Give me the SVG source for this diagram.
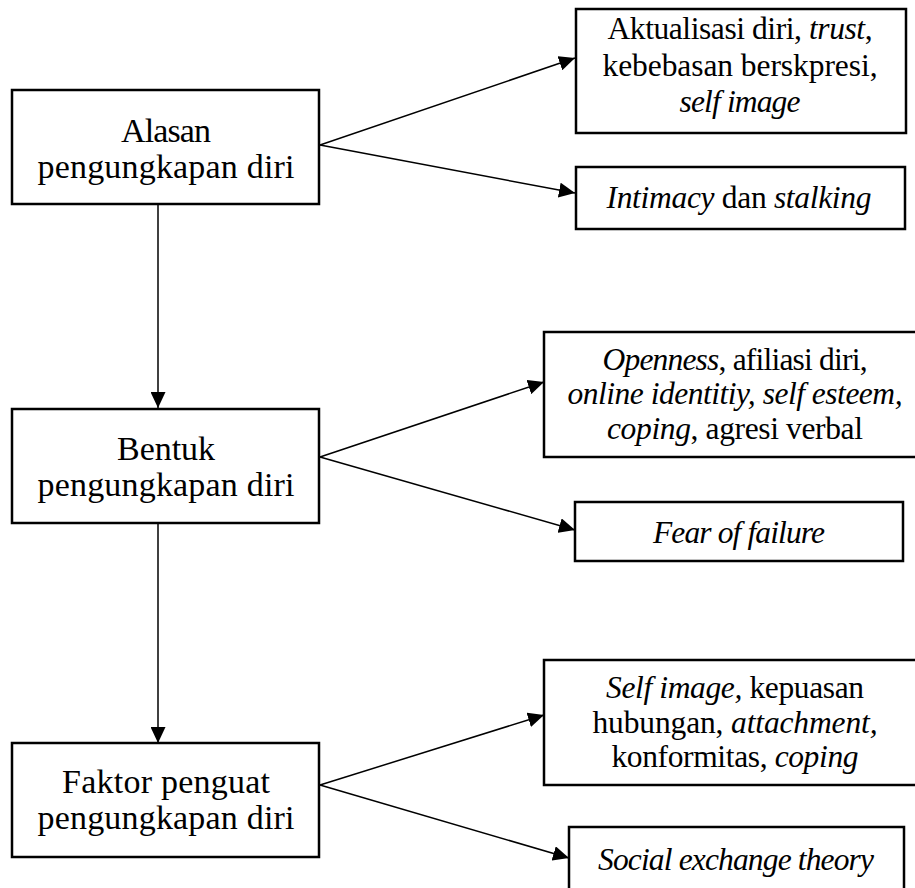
<svg xmlns="http://www.w3.org/2000/svg" width="915" height="888" viewBox="0 0 915 888">
<style>
.box{fill:#fff;stroke:#000;stroke-width:2.5}
.t{font-family:"Liberation Serif","Times New Roman",serif;font-size:31.5px;fill:#000;text-anchor:middle}
.l{font-size:34px}
.i{font-style:italic;font-size:31.5px}
.c{stroke:#000;stroke-width:1.5;fill:none;marker-end:url(#ah)}
</style>
<defs>
<marker id="ah" markerUnits="userSpaceOnUse" markerWidth="17" markerHeight="15" refX="16" refY="7.5" orient="auto">
<path d="M0,0 L16,7.5 L0,15 z" fill="#000"/>
</marker>
</defs>
<rect width="915" height="888" fill="#fff"/>
<g id="connectors">
<line class="c" x1="320" y1="145" x2="575" y2="58"/>
<line class="c" x1="320" y1="145" x2="575" y2="193"/>
<line class="c" x1="158" y1="204" x2="158" y2="408"/>
<line class="c" x1="320" y1="457" x2="544" y2="382"/>
<line class="c" x1="320" y1="457" x2="575" y2="530"/>
<line class="c" x1="158" y1="523" x2="158" y2="743"/>
<line class="c" x1="320" y1="785" x2="544" y2="715"/>
<line class="c" x1="320" y1="785" x2="569" y2="858"/>
</g>
<g id="alasan">
<rect class="box" x="12" y="90" width="307" height="114"/>
<text class="t l" x="166" y="142" textLength="90">Alasan</text>
<text class="t l" x="166" y="178" textLength="257">pengungkapan diri</text>
</g>
<g id="aktualisasi">
<rect class="box" x="576" y="9" width="330" height="124"/>
<text class="t" x="740" y="39" textLength="265">Aktualisasi diri, <tspan class="i">trust</tspan>,</text>
<text class="t" x="740" y="76" textLength="275">kebebasan berskpresi,</text>
<text class="t i" x="740" y="112" textLength="121">self image</text>
</g>
<g id="intimacy">
<rect class="box" x="576" y="167" width="329" height="62"/>
<text class="t" x="739" y="208" textLength="265"><tspan class="i">Intimacy</tspan> dan <tspan class="i">stalking</tspan></text>
</g>
<g id="bentuk">
<rect class="box" x="12" y="409" width="307" height="114"/>
<text class="t l" x="166" y="460" textLength="98">Bentuk</text>
<text class="t l" x="166" y="496" textLength="257">pengungkapan diri</text>
</g>
<g id="openness">
<rect class="box" x="544" y="332" width="384" height="125"/>
<text class="t" x="735" y="370" textLength="265"><tspan class="i">Openness</tspan>, afiliasi diri,</text>
<text class="t i" x="735" y="404" textLength="335">online identitiy, self esteem,</text>
<text class="t" x="735" y="439" textLength="256"><tspan class="i">coping</tspan>, agresi verbal</text>
</g>
<g id="fear">
<rect class="box" x="575" y="502" width="328" height="59"/>
<text class="t i" x="739" y="543" textLength="172">Fear of failure</text>
</g>
<g id="faktor">
<rect class="box" x="12" y="743" width="307" height="114"/>
<text class="t l" x="166" y="793" textLength="208">Faktor penguat</text>
<text class="t l" x="166" y="829" textLength="257">pengungkapan diri</text>
</g>
<g id="selfimage">
<rect class="box" x="544" y="660" width="384" height="125"/>
<text class="t" x="735" y="698" textLength="258"><tspan class="i">Self image,</tspan> kepuasan</text>
<text class="t" x="735" y="733" textLength="285">hubungan, <tspan class="i">attachment,</tspan></text>
<text class="t" x="735" y="767" textLength="247">konformitas, <tspan class="i">coping</tspan></text>
</g>
<g id="social">
<rect class="box" x="569" y="827" width="335" height="70"/>
<text class="t i" x="736" y="870" textLength="276">Social exchange theory</text>
</g>
</svg>
